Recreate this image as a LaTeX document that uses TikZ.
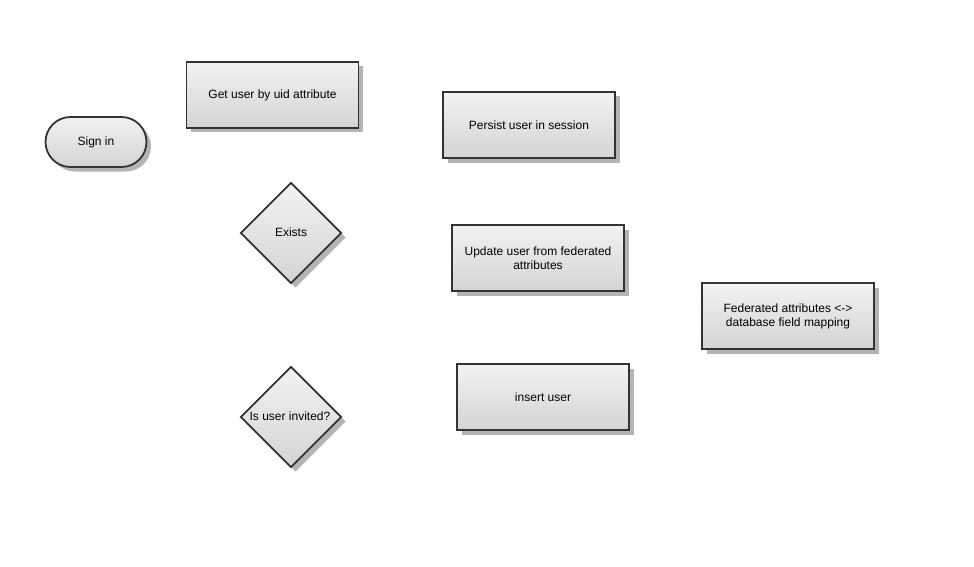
\documentclass[tikz,border=0pt]{standalone}
\usepackage{fontspec}
\setmainfont{Liberation Sans}
\usetikzlibrary{shapes.geometric,shadows}
\definecolor{edge}{HTML}{333333}
\definecolor{shad}{HTML}{B4B4B4}
\definecolor{topc}{HTML}{F2F2F2}
\definecolor{botc}{HTML}{D4D4D4}
\tikzset{
  base/.style={draw=edge, line width=1.8pt, top color=topc, bottom color=botc,
    drop shadow={shadow xshift=4.5pt, shadow yshift=-4.5pt, fill=shad, opacity=1},
    font=\fontsize{12}{14}\selectfont, align=center, inner sep=0pt},
  procbox/.style={base, rectangle, minimum width=172pt, minimum height=66pt},
  termbox/.style={base, rectangle, rounded corners=25pt, minimum width=101pt, minimum height=50pt},
  decbox/.style={base, diamond, minimum width=101pt, minimum height=101pt, aspect=1},
  lbl/.style={font=\fontsize{12}{14}\selectfont, align=center, inner sep=0pt}
}
\begin{document}
\begin{tikzpicture}[x=1pt,y=-1pt]
\useasboundingbox (0,0) rectangle (974,567);
\node[termbox] (signin) at (96,142) {Sign in};
\node[procbox] (getuser) at (272.5,95) {Get user by uid attribute};
\node[decbox] (exists) at (291,233) {};
\node[lbl] (existslbl) at (291,232) {Exists};
\node[decbox] (invited) at (291,417) {};
\node[lbl] (invitedlbl) at (290,416) {Is user invited?};
\node[procbox] (persist) at (529,125) {Persist user in session};
\node[procbox] (update) at (538,258) {Update user from federated\\attributes};
\node[procbox] (mapping) at (788,316) {Federated attributes <->\\database field mapping};
\node[procbox] (insert) at (543,397) {insert user};
\end{tikzpicture}
\end{document}
